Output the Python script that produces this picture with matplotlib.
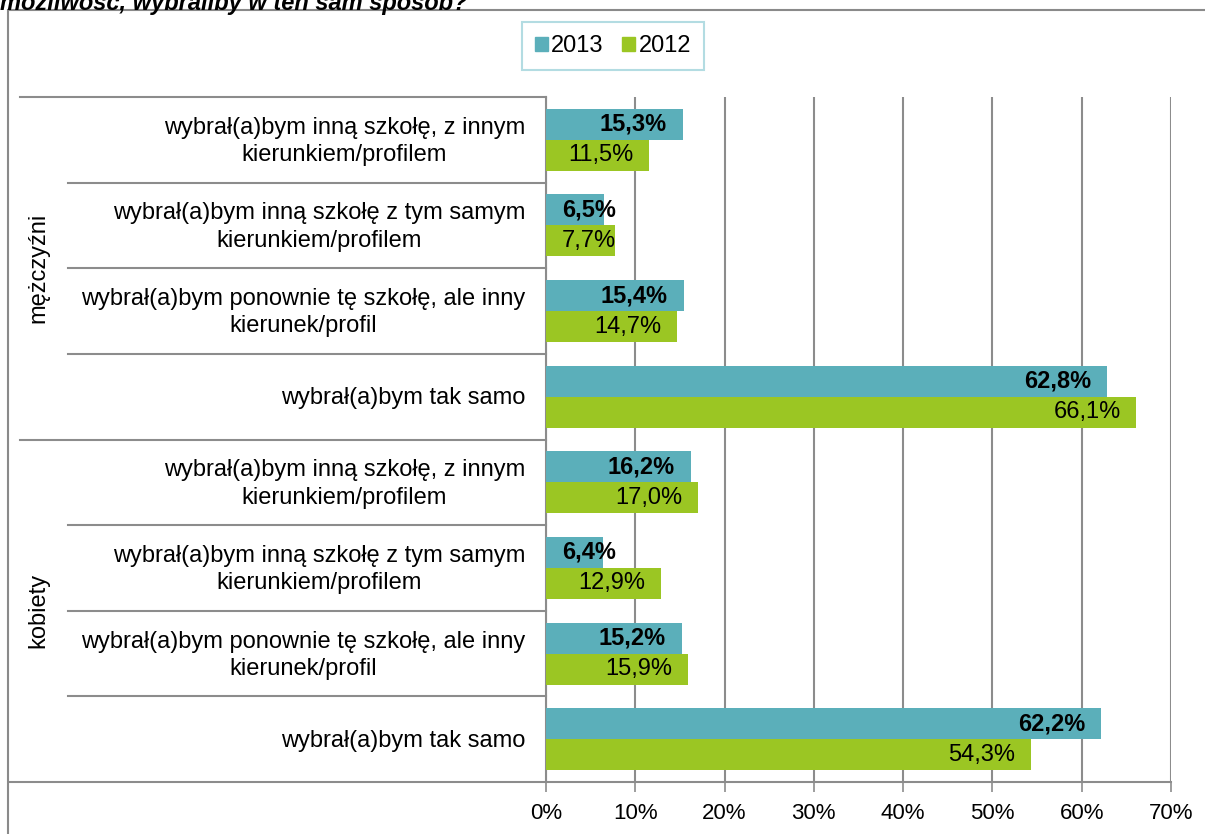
import matplotlib.pyplot as plt
from matplotlib.patches import Rectangle, Patch
from matplotlib.lines import Line2D
import numpy as np

plt.rcParams['font.family'] = ['Liberation Sans', 'DejaVu Sans']

groups = ["mężczyźni", "kobiety"]
answers = [
    "wybrał(a)bym inną szkołę, z innym\nkierunkiem/profilem",
    "wybrał(a)bym inną szkołę z tym samym\nkierunkiem/profilem",
    "wybrał(a)bym ponownie tę szkołę, ale inny\nkierunek/profil",
    "wybrał(a)bym tak samo",
]
vals_2013 = [15.3, 6.5, 15.4, 62.8, 16.2, 6.4, 15.2, 62.2]
vals_2012 = [11.5, 7.7, 14.7, 66.1, 17.0, 12.9, 15.9, 54.3]
xticks = [0, 10, 20, 30, 40, 50, 60, 70]
title_tail = "możliwość, wybraliby w ten sam sposób?"

c13 = "#5BAFBA"
c12 = "#9BC623"
grid_c = "#8C8C8C"
fs = 17

W, H = 1205, 834
fig = plt.figure(figsize=(W / 100, H / 100), dpi=100)

# outer frame
fig.patches.append(Rectangle((8 / W, -0.05), 1.1, (H - 10) / H + 0.05, transform=fig.transFigure,
                             fill=False, edgecolor="#8A8A8A", lw=1.5))
# title line, cut off at the top edge as in the source
fig.text(0.0, 1 - 10 / H, title_tail, fontsize=fs, fontweight="bold", style="italic", va="baseline")

x0, x1 = 546, 1171
y_top, y_bot = 97, 782
ax = fig.add_axes([x0 / W, (H - y_bot) / H, (x1 - x0) / W, (y_bot - y_top) / H])

n = len(vals_2013)
pos = np.arange(n)
bh = 0.362
ax.barh(pos - bh / 2, vals_2013, height=bh, color=c13, zorder=3)
ax.barh(pos + bh / 2, vals_2012, height=bh, color=c12, zorder=3)
ax.set_ylim(n - 0.5, -0.5)
ax.set_xlim(0, 70)

for i in range(n):
    for v, dy, w in [(vals_2013[i], -bh / 2, "bold"), (vals_2012[i], bh / 2, "normal")]:
        lab = f"{v:.1f}%".replace(".", ",")
        if v < 9:
            ax.text(1.8, i + dy, lab, ha="left", va="center", fontsize=fs, fontweight=w, zorder=4)
        else:
            ax.text(v - 1.75, i + dy, lab, ha="right", va="center", fontsize=fs, fontweight=w, zorder=4)

ax.set_xticks(xticks)
ax.set_xticklabels([f"{t}%" for t in xticks], fontsize=16)
ax.tick_params(axis="x", length=7, color=grid_c, width=1.2, pad=8)
ax.set_yticks([])
ax.xaxis.grid(True, color=grid_c, lw=1.5, zorder=0)
for s in ["top", "right"]:
    ax.spines[s].set_visible(False)
ax.spines["left"].set_color(grid_c)
ax.spines["left"].set_linewidth(1.5)
ax.spines["bottom"].set_visible(False)

def axx(px):
    return (px - x0) / (x1 - x0)

tr = ax.get_yaxis_transform()
# bottom axis line extends left
ax.add_line(Line2D([axx(10), 1], [n - 0.5, n - 0.5], transform=tr, color=grid_c, lw=1.5, clip_on=False))
for k in range(n):
    yb = k - 0.5
    xs = axx(20) if k % 4 == 0 else axx(68)
    ax.add_line(Line2D([xs, 0], [yb, yb], transform=tr, color=grid_c, lw=1.5, clip_on=False))
    ax.text(axx(525), k + 0.02, answers[k % 4], transform=tr, ha="right", va="center",
            multialignment="center", fontsize=fs, linespacing=1.32)

for g, name in enumerate(groups):
    ax.text(axx(38), g * 4 + 1.5, name, transform=tr, rotation=90, ha="center", va="center", fontsize=fs)

handles = [Patch(color=c13), Patch(color=c12)]
leg = fig.legend(handles, ["2013", "2012"], loc="center", bbox_to_anchor=(613 / W, 1 - 46 / H),
                 ncol=2, fontsize=fs, frameon=True, fancybox=False, handlelength=0.55, handleheight=0.55,
                 handletextpad=0.15, columnspacing=0.8, borderpad=0.55)
leg.get_frame().set_edgecolor("#A0D4DB")
leg.get_frame().set_linewidth(1.5)

fig.savefig("out.png", dpi=100)
